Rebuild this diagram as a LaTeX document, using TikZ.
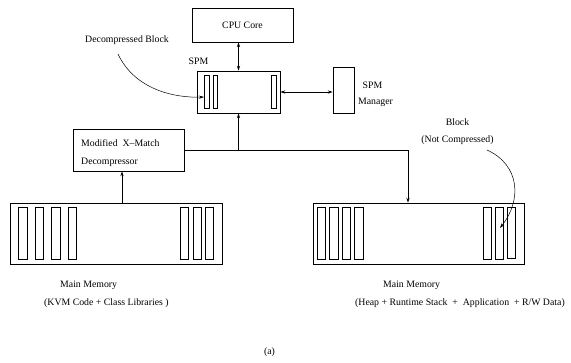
\documentclass[tikz,border=0pt]{standalone}
\usepackage{fontspec}
\setmainfont{Liberation Serif}
\usetikzlibrary{arrows.meta}
\begin{document}
\begin{tikzpicture}[x=1pt,y=-1pt,
  every node/.style={font=\fontsize{9.8}{11}\selectfont},
  box/.style={draw,line width=0.6pt,minimum width=#1,inner sep=0pt},
  lbl/.style={inner sep=0pt,anchor=base west},
  clbl/.style={inner sep=0pt,anchor=base},
  conn/.style={line width=0.6pt},
  tip/.style={-{Stealth[length=5pt,width=3.2pt]}},
  dtip/.style={{Stealth[length=5pt,width=3.2pt]}-{Stealth[length=5pt,width=3.2pt]}},
  bar/.style={line width=0.6pt}]
\useasboundingbox (0,0) rectangle (571,362);
% boxes
\node[box=101pt,minimum height=34pt] (cpu) at (242.5,25) {};
\node[clbl] (cputxt) at (242.5,28.5) {CPU Core};
\node[box=83pt,minimum height=42pt] (spm) at (238.5,92) {};
\node[box=21pt,minimum height=46pt] (mgr) at (343.5,90) {};
\node[box=111pt,minimum height=42pt] (dec) at (128.5,150) {};
\node[box=212pt,minimum height=61pt] (lmem) at (116,233.5) {};
\node[box=211pt,minimum height=61pt] (rmem) at (418.5,233.5) {};
% labels
\node[clbl] (spmtxt) at (198.5,64.5) {SPM};
\node[clbl] (mgr1) at (372.5,88.5) {SPM};
\node[clbl] (mgr2) at (375.5,104.5) {Manager};
\node[lbl] (dec1) at (81,146.5) {Modified\ \ X--Match};
\node[lbl] (dec2) at (81,164.5) {Decompressor};
\node[clbl] (dbtxt) at (127,42.5) {Decompressed Block};
\node[clbl] (blk1) at (457.5,125.5) {Block};
\node[clbl] (blk2) at (457.5,142.5) {(Not Compressed)};
\node[lbl] (lm1) at (60,287.5) {Main Memory};
\node[lbl] (lm2) at (44,305.5) {(KVM Code + Class Libraries )};
\node[lbl] (rm1) at (383,287.5) {Main Memory};
\node[lbl] (rm2) at (355,305.5) {(Heap + Runtime Stack\ \ +\ \ Application\ \ + R/W Data)};
\node[clbl] (cap) at (269.5,354.5) {(a)};
% SPM bars
\foreach \a/\b in {204/209,213/217,271/276}{\draw[bar] (\a,75) rectangle (\b,108);}
% memory bars
\foreach \a/\b in {18/27,35/43,51/60,68/76,180/188,193/201,205/213,317/325,329/338,342/350,354/363,483/491,495/503}{\draw[bar] (\a,207) rectangle (\b,259);}
\draw[line width=1.1pt] (507.5,207.5) rectangle (515.5,258.5);
% connectors
\draw[conn,dtip] (cpu.south -| spm.north) -- (spm.north);
\draw[conn,dtip] (spm.east) -- (mgr.west |- spm.east);
\coordinate (j) at (spm.south |- dec.east);
\coordinate (rin) at ([xshift=-10.5pt]rmem.north);
\draw[conn,tip] (dec.east) -- (rin |- dec.east) -- (rin);
\draw[conn,tip] (j) -- (spm.south);
\coordinate (lin) at ([xshift=6pt]lmem.north);
\draw[conn,tip] (lin) -- (lin |- dec.south);
\coordinate (dbs) at (118,54);
\coordinate (dbe) at (204,97);
\draw[line width=0.5pt,tip] (dbs) .. controls (135,90) and (175,98) .. (dbe);
\coordinate (bks) at (487,150);
\coordinate (bke) at (500,228);
\draw[line width=0.5pt,tip] (bks) .. controls (520,165) and (522,200) .. (bke);
\end{tikzpicture}
\end{document}
